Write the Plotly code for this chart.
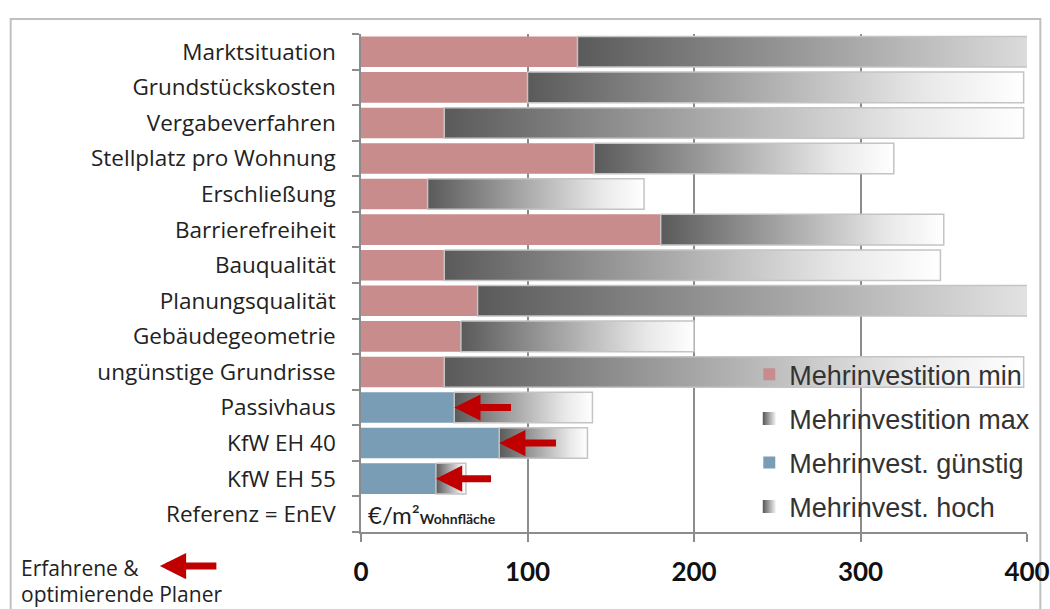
import plotly.graph_objects as go

categories = ["Marktsituation", "Grundstückskosten", "Vergabeverfahren",
              "Stellplatz pro Wohnung", "Erschließung", "Barrierefreiheit",
              "Bauqualität", "Planungsqualität", "Gebäudegeometrie",
              "ungünstige Grundrisse", "Passivhaus", "KfW EH 40", "KfW EH 55",
              "Referenz = EnEV"]

# Group 1: Mehrinvestition min / max (first 10 categories)
invest_min = [130, 100, 50, 140, 40, 180, 50, 70, 60, 50]
invest_max = [500, 398, 398, 320, 170, 350, 348, 500, 200, 398]

# Group 2: energy standards, günstig / hoch
energy_low = [56, 83, 45]
energy_high = [139, 136, 63]
# optimised planners (arrow tails)
arrow_from = [91, 118, 79]

x_ticks = [0, 100, 200, 300, 400]

PINK = "#c88c8c"
BLUE = "#7a9db6"
RED = "#c00000"
GRAD = [[0, "#5a5a5a"], [0.45, "#a9a9a9"], [0.8, "#e8e8e8"], [1, "#ffffff"]]
H = 0.43
LABEL_FONT = "Open Sans"

fig = go.Figure()

n1 = len(invest_min)
idx1 = list(range(n1))
idx2 = list(range(n1, n1 + len(energy_low)))

fig.add_trace(go.Bar(
    x=invest_min, y=idx1, orientation="h", width=2 * H,
    marker=dict(color=PINK, line=dict(width=0)),
    name="Mehrinvestition min", legendgroup="a"))


def grad_poly(lo, hi, yi, group):
    return go.Scatter(
        x=[lo, hi, hi, lo, lo], y=[yi - H, yi - H, yi + H, yi + H, yi - H],
        mode="lines", fill="toself",
        fillgradient=dict(type="horizontal", colorscale=GRAD, start=lo, stop=hi),
        line=dict(color="#c4c4c4", width=1.5),
        legendgroup=group, showlegend=False, hoverinfo="skip")


def grad_legend(name, group):
    return go.Scatter(
        x=[None], y=[None], mode="markers", name=name, legendgroup=group,
        marker=dict(symbol="square", size=13, color="#555555",
                    gradient=dict(type="horizontal", color="#f4f4f4")))


fig.add_trace(grad_legend("Mehrinvestition max", "b"))
for k, (lo, hi) in enumerate(zip(invest_min, invest_max)):
    fig.add_trace(grad_poly(lo, hi, idx1[k], "b"))

fig.add_trace(go.Bar(
    x=energy_low, y=idx2, orientation="h", width=2 * H,
    marker=dict(color=BLUE, line=dict(width=0)),
    name="Mehrinvest. günstig", legendgroup="c"))

fig.add_trace(grad_legend("Mehrinvest. hoch", "d"))
for k, (lo, hi) in enumerate(zip(energy_low, energy_high)):
    fig.add_trace(grad_poly(lo, hi, idx2[k], "d"))

annotations = []
for k, (lo, tail) in enumerate(zip(energy_low, arrow_from)):
    annotations.append(dict(
        x=lo, y=idx2[k], ax=tail, ay=idx2[k], axref="x", ayref="y",
        xref="x", yref="y", text="", showarrow=True,
        arrowhead=2, arrowsize=0.75, arrowwidth=7, arrowcolor=RED))

annotations.append(dict(
    x=3, y=len(categories) - 1, xref="x", yref="y", xanchor="left", yanchor="middle",
    text="€/m²<b><span style='font-size:14px'>Wohnfläche</span></b>",
    showarrow=False, font=dict(family="Lato", size=24, color="#222")))

# left-bottom explanatory note
annotations.append(dict(
    x=-0.513, y=-0.0723, xref="paper", yref="paper", xanchor="left", yanchor="middle",
    text="Erfahrene &", showarrow=False,
    font=dict(family=LABEL_FONT, size=21, color="#222")))
annotations.append(dict(
    x=-0.513, y=-0.1245, xref="paper", yref="paper", xanchor="left", yanchor="middle",
    text="optimierende Planer", showarrow=False,
    font=dict(family=LABEL_FONT, size=21, color="#222")))
annotations.append(dict(
    x=-0.302, y=-0.0683, xref="paper", yref="paper", ax=58, ay=0, text="",
    showarrow=True, arrowhead=2, arrowsize=0.75, arrowwidth=7, arrowcolor=RED))

fig.update_layout(
    width=1050, height=609,
    margin=dict(l=361, r=23, t=34, b=77, autoexpand=False),
    paper_bgcolor="white", plot_bgcolor="white",
    barmode="overlay",
    showlegend=True,
    legend=dict(x=0.583, y=0.365, xanchor="left", yanchor="top",
                bgcolor="rgba(0,0,0,0)", tracegroupgap=6,
                font=dict(family="Liberation Sans", size=27, color="#333")),
    annotations=annotations,
    shapes=[dict(type="rect", xref="paper", yref="paper",
                 x0=-0.526, x1=1.02, y0=-0.2, y1=1.03,
                 line=dict(color="#bfbfbf", width=2), layer="below")],
)

fig.update_xaxes(
    range=[0, 400], tickvals=x_ticks, ticktext=[str(v) for v in x_ticks],
    showgrid=True, gridcolor="#8c8c8c", gridwidth=1.5,
    showline=True, linecolor="#8c8c8c", linewidth=1.5,
    ticks="outside", ticklen=8, tickcolor="#8c8c8c", tickwidth=1.5,
    ticklabelstandoff=8, automargin=False,
    tickfont=dict(family="Lato", size=26, color="#111", weight="bold"),
    zeroline=False, fixedrange=True)

fig.update_yaxes(
    range=[len(categories) - 0.5, -0.5],
    tickvals=list(range(len(categories))), ticktext=categories,
    ticks="", showgrid=False, zeroline=False, automargin=False,
    showline=True, linecolor="#8c8c8c", linewidth=1.5,
    ticklabelstandoff=19,
    tickfont=dict(family=LABEL_FONT, size=22.5, color="#222"),
    minor=dict(tick0=0.5, dtick=1, ticks="outside", ticklen=7,
               tickcolor="#8c8c8c", tickwidth=1.5, showgrid=False),
    fixedrange=True)

fig.write_html("out.html", post_script="document.body.style.margin='0';",
               config={"displayModeBar": False})
